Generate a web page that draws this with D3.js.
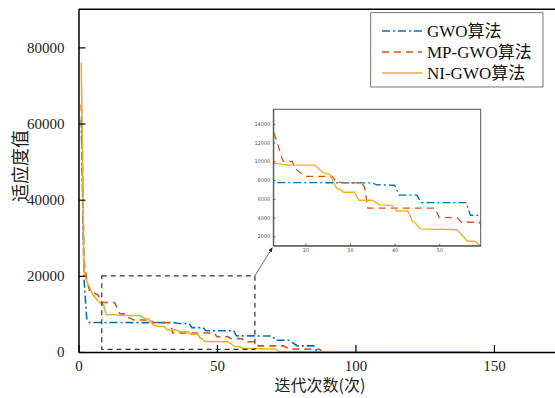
<!DOCTYPE html>
<html>
<head>
<meta charset="utf-8">
<script src="https://cdn.jsdelivr.net/npm/d3@7"></script>
<style>
  html, body { margin: 0; padding: 0; background: #fff; overflow: hidden; }
  svg { display: block; }
</style>
</head>
<body>
<div id="canvas"></div>
<script>
// 数据 (iteration breakpoints)
const seriesNames = ["GWO算法", "MP-GWO算法", "NI-GWO算法"];

const gwoIter = [1, 2, 3, 4, 35, 36, 40, 41, 45, 46, 56, 57, 70, 71, 76, 79, 85, 86, 145];
const gwoFit  = [61000, 19000, 8400, 7750, 7700, 7500, 7450, 6400, 6400, 5600, 5600, 4250, 4200, 3100, 3100, 1600, 1600, 50, 50];

const mpIter = [1, 2, 3, 4, 7, 8.5, 13, 15, 17, 18, 20, 26, 27, 32.6, 33.3, 34, 49, 50, 54, 55, 59, 60, 64, 65, 74, 76, 87, 88, 145];
const mpFit  = [65000, 24000, 19000, 16000, 15000, 13000, 13000, 10000, 10000, 9100, 8400, 8400, 7750, 7700, 7200, 5000, 5000, 4000, 4000, 3500, 3500, 2700, 2700, 1600, 1600, 800, 700, 50, 50];

const niIter = [1, 2, 3, 4, 5, 6, 7, 8, 9, 10, 13, 16, 22, 24, 25.5, 27, 27.8, 28.6, 31, 32, 35, 36.7, 39.5, 40, 40.5, 43, 44, 44.6, 45.7, 54, 56.3, 58, 59.5, 71, 72.5, 145];
const niFit  = [76000, 21000, 18500, 17000, 15200, 14300, 13500, 12800, 12500, 9800, 9800, 9600, 9600, 8800, 8600, 7100, 7000, 6700, 6700, 5850, 5850, 5350, 5300, 5000, 4700, 4700, 3600, 3450, 2800, 2700, 1500, 1450, 900, 800, 50, 50];

const xTicks = [0, 50, 100, 150];
const yTicks = [0, 20000, 40000, 60000, 80000];
const insetXTicks = [20, 30, 40, 50];
const insetYTicks = [2000, 4000, 6000, 8000, 10000, 12000, 14000];

const zoomX = [8.4, 63.7];
const zoomY = [700, 20000];

const colors = ["#0072BD", "#D95319", "#EDB120"];
const dashes = ["8,3,2,3", "7,5", null];

const W = 555, H = 398;
const serif = "'Liberation Serif', 'DejaVu Serif', 'Noto Sans CJK SC', serif";
const cjk = "'Noto Sans CJK SC', sans-serif";
const plain = d => String(d);

const svg = d3.select("#canvas").append("svg")
    .attr("width", W)
    .attr("height", H);

// 主图
const plot = { left: 78.5, top: 9.3, bottom: 352, right: 577 };
const xScale = d3.scaleLinear().domain([0, 180]).range([plot.left, plot.right]);
const yScale = d3.scaleLinear().domain([0, 90000]).range([plot.bottom, plot.top]);

svg.append("clipPath").attr("id", "mainClip")
  .append("rect")
    .attr("x", plot.left).attr("y", plot.top)
    .attr("width", plot.right - plot.left).attr("height", plot.bottom - plot.top);

const series = [
  { iter: gwoIter, fit: gwoFit },
  { iter: mpIter, fit: mpFit },
  { iter: niIter, fit: niFit }
];

function drawLines(g, xs, ys, clipId, width) {
  const line = d3.line()
      .x(d => xs(d[0]))
      .y(d => ys(d[1]));
  series.forEach((s, i) => {
    const pts = s.iter.map((x, j) => [x, s.fit[j]]);
    g.append("path")
        .attr("clip-path", "url(#" + clipId + ")")
        .attr("fill", "none")
        .attr("stroke", colors[i])
        .attr("stroke-width", width)
        .attr("stroke-dasharray", dashes[i])
        .attr("d", line(pts));
  });
}

const mainG = svg.append("g");
drawLines(mainG, xScale, yScale, "mainClip", 1.6);

// axes
const axisG = svg.append("g");
axisG.append("g")
    .attr("transform", "translate(0," + plot.bottom + ")")
    .call(d3.axisBottom(xScale).tickValues(xTicks).tickFormat(plain).tickSizeInner(-7).tickSizeOuter(0).tickPadding(8));
axisG.append("g")
    .attr("transform", "translate(" + plot.left + ",0)")
    .call(d3.axisLeft(yScale).tickValues(yTicks).tickFormat(plain).tickSizeInner(-7).tickSizeOuter(0).tickPadding(14));
axisG.selectAll(".domain").attr("stroke", "#000").attr("stroke-width", 1.5);
axisG.selectAll(".tick line").attr("stroke", "#000").attr("stroke-width", 1.2);
axisG.selectAll(".tick text")
    .style("font-family", serif)
    .style("font-size", "15px")
    .attr("fill", "#222");
// top border
axisG.append("line")
    .attr("x1", plot.left).attr("x2", W)
    .attr("y1", plot.top).attr("y2", plot.top)
    .attr("stroke", "#000").attr("stroke-width", 1.5);

// axis titles
svg.append("text")
    .attr("x", 320).attr("y", 391)
    .attr("text-anchor", "middle")
    .attr("font-family", cjk)
    .attr("font-size", "16px")
    .attr("fill", "#222")
    .text("迭代次数(次)");
svg.append("text")
    .attr("transform", "translate(27,166) rotate(-90)")
    .attr("text-anchor", "middle")
    .attr("font-family", cjk)
    .attr("font-size", "18px")
    .attr("fill", "#222")
    .text("适应度值");

// 放大区域框
svg.append("rect")
    .attr("x", xScale(zoomX[0]))
    .attr("y", yScale(zoomY[1]))
    .attr("width", xScale(zoomX[1]) - xScale(zoomX[0]))
    .attr("height", yScale(zoomY[0]) - yScale(zoomY[1]))
    .attr("fill", "none")
    .attr("stroke", "#333")
    .attr("stroke-width", 1.2)
    .attr("stroke-dasharray", "5,4");

// 局部放大图
const inset = { left: 273.3, right: 480.7, top: 109.3, bottom: 245.7 };
const ixScale = d3.scaleLinear().domain([12.8, 59.3]).range([inset.left, inset.right]);
const iyScale = d3.scaleLinear().domain([1000, 15550]).range([inset.bottom, inset.top]);

svg.append("clipPath").attr("id", "insetClip")
  .append("rect")
    .attr("x", inset.left).attr("y", inset.top)
    .attr("width", inset.right - inset.left).attr("height", inset.bottom - inset.top);

svg.append("rect")
    .attr("x", inset.left).attr("y", inset.top)
    .attr("width", inset.right - inset.left).attr("height", inset.bottom - inset.top)
    .attr("fill", "#fff");

const insetG = svg.append("g");
drawLines(insetG, ixScale, iyScale, "insetClip", 1.3);

const iAxis = svg.append("g");
iAxis.append("g")
    .attr("transform", "translate(0," + inset.bottom + ")")
    .call(d3.axisBottom(ixScale).tickValues(insetXTicks).tickFormat(plain).tickSizeInner(-2).tickSizeOuter(0).tickPadding(3));
iAxis.append("g")
    .attr("transform", "translate(" + inset.left + ",0)")
    .call(d3.axisLeft(iyScale).tickValues(insetYTicks).tickFormat(plain).tickSizeInner(-2).tickSizeOuter(0).tickPadding(3));
iAxis.selectAll(".tick text")
    .style("font-family", "'DejaVu Sans', sans-serif")
    .style("font-size", "5px")
    .attr("fill", "#555");
iAxis.selectAll(".tick line").attr("stroke", "#555");
iAxis.selectAll(".domain").attr("stroke", "#555");
svg.append("rect")
    .attr("x", inset.left).attr("y", inset.top)
    .attr("width", inset.right - inset.left).attr("height", inset.bottom - inset.top)
    .attr("fill", "none")
    .attr("stroke", "#555")
    .attr("stroke-width", 1);

// 箭头
svg.append("defs").append("marker")
    .attr("id", "arrow")
    .attr("viewBox", "0 0 10 10")
    .attr("refX", 9).attr("refY", 5)
    .attr("markerWidth", 6).attr("markerHeight", 6)
    .attr("orient", "auto")
  .append("path")
    .attr("d", "M0,1 L10,5 L0,9 Z")
    .attr("fill", "#222");
svg.append("line")
    .attr("x1", xScale(zoomX[1])).attr("y1", yScale(zoomY[1]))
    .attr("x2", inset.left - 1).attr("y2", inset.bottom + 2)
    .attr("stroke", "#444")
    .attr("stroke-width", 0.8)
    .attr("marker-end", "url(#arrow)");

// 凡例
const legend = { x: 370.7, y: 12.7, w: 172.3, h: 74.3 };
const legG = svg.append("g");
legG.append("rect")
    .attr("x", legend.x).attr("y", legend.y)
    .attr("width", legend.w).attr("height", legend.h)
    .attr("fill", "#fff")
    .attr("stroke", "#555")
    .attr("stroke-width", 0.8);
const legRows = [31, 52, 73];
seriesNames.forEach((name, i) => {
  legG.append("line")
      .attr("x1", 382).attr("x2", 422)
      .attr("y1", legRows[i]).attr("y2", legRows[i])
      .attr("stroke", colors[i])
      .attr("stroke-width", 1.6)
      .attr("stroke-dasharray", dashes[i]);
  legG.append("text")
      .attr("x", 427).attr("y", legRows[i] + 6)
      .attr("font-family", serif)
      .attr("font-size", "17px")
      .attr("fill", "#111")
      .text(name);
});
</script>
</body>
</html>
